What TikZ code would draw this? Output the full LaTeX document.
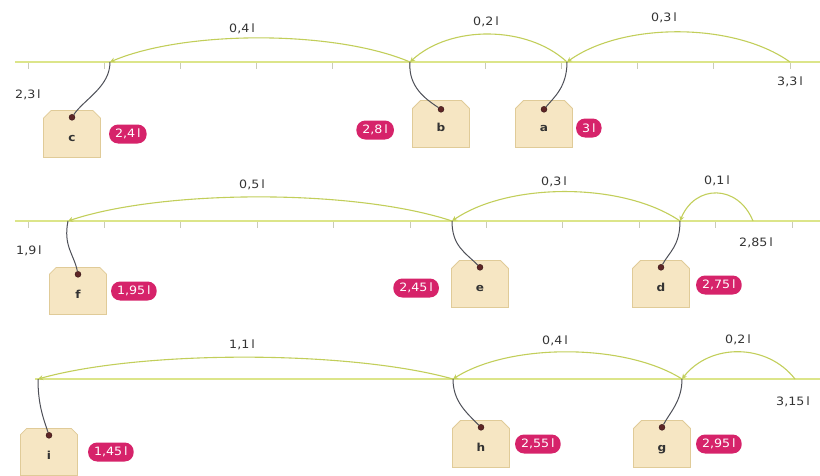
\documentclass[tikz,border=0pt]{standalone}
\usepackage{fontspec}
\setmainfont{DejaVu Sans}[FakeStretch=1.1]
\usetikzlibrary{arrows.meta,positioning,shapes.misc}
\definecolor{linecol}{HTML}{DCE58A}
\definecolor{arccol}{HTML}{C2CE5A}
\definecolor{tickcol}{HTML}{C9CBB8}
\definecolor{strcol}{HTML}{4E5058}
\definecolor{tagfill}{HTML}{F6E6C3}
\definecolor{tagline}{HTML}{E0CB98}
\definecolor{holecol}{HTML}{5E2626}
\definecolor{pillcol}{HTML}{D6236A}
\definecolor{txt}{HTML}{333333}
\tikzset{
  numline/.style={draw=linecol, line width=1.6pt},
  tickmark/.style={draw=tickcol, line width=0.7pt},
  jump/.style={-{Stealth[length=5pt,width=5pt]}, draw=arccol, line width=1.1pt},
  amount/.style={font=\fontsize{11.5}{13}\selectfont, text=txt, inner sep=1pt},
  tag/.style={
    chamfered rectangle, chamfered rectangle corners={north west,north east},
    chamfered rectangle xsep=4pt, chamfered rectangle ysep=4pt,
    fill=tagfill, draw=tagline, line width=0.8pt,
    minimum width=57pt, minimum height=47pt,
    inner sep=0pt, text height=15pt, text depth=0pt,
    font=\fontsize{11}{13}\selectfont\bfseries, text=txt
  },
  hole/.style={circle, fill=holecol, draw=holecol!60!black, inner sep=0pt, minimum size=6pt},
  pill/.style={
    rounded corners=9pt, fill=pillcol, text=white,
    inner xsep=6pt, inner ysep=0pt, minimum height=19pt,
    font=\fontsize{11.5}{13}\selectfont
  },
  string/.style={draw=strcol, line width=1pt}
}
\begin{document}
\begin{tikzpicture}[x=1pt,y=-1pt]
  \useasboundingbox (0,0) rectangle (820,475);
  % first line: 3,3 l - 0,3 l - 0,2 l - 0,4 l
  \draw[numline] (15,62) -- (820,62);
  \foreach \k in {0,...,10}
    \draw[tickmark] ({28+76.2*\k},63) -- ++(0,6);
  \coordinate (pc) at (110,62);
  \coordinate (pb) at (410,62);
  \coordinate (pa) at (567,62);
  \coordinate (r1end) at (790,62);
  \draw[jump] (r1end) .. controls +(-56,-40) and +(56,-40) .. (pa);
  \draw[jump] (pa) .. controls +(-40,-37) and +(40,-37) .. (pb);
  \draw[jump] (pb) .. controls +(-75,-32) and +(75,-32) .. (pc);
  \node[amount] (l23) at (28,95) {2,3\,l};
  \node[amount] (l33) at (790,82) {3,3\,l};
  \node[amount] (s04) at (242,29) {0,4\,l};
  \node[amount] (s02) at (486,22) {0,2\,l};
  \node[amount] (s03) at (664,18) {0,3\,l};
  \node[tag] (c) at (72,134) {c};
  \node[tag] (b) at (441,124) {b};
  \node[tag] (a) at (544,124) {a};
  \node[hole, below=4pt of c.north] (hc) {};
  \node[hole, below=6pt of b.north] (hb) {};
  \node[hole, below=6pt of a.north] (ha) {};
  \draw[string] (pc) .. controls +(0,25) and +(12,-18) .. (hc);
  \draw[string] (pb) .. controls +(-2,25) and +(-15,-10) .. (hb);
  \draw[string] (pa) .. controls +(0,25) and +(10,-12) .. (ha);
  \node[pill, right=8pt of c] (vc) {2,4\,l};
  \node[pill, left=18pt of b, yshift=-6pt] (vb) {2,8\,l};
  \node[pill, right=3pt of a, yshift=-4pt] (va) {3\,l};
  % second line: 2,85 l - 0,1 l - 0,3 l - 0,5 l
  \draw[numline] (15,221) -- (820,221);
  \foreach \k in {0,...,10}
    \draw[tickmark] ({28+76.4*\k},222) -- ++(0,6);
  \coordinate (pf) at (68,221);
  \coordinate (pe) at (452,221);
  \coordinate (pd) at (680,221);
  \coordinate (r2end) at (753,221);
  \draw[jump] (r2end) .. controls +(-15,-37) and +(15,-37) .. (pd);
  \draw[jump] (pd) .. controls +(-57,-39) and +(57,-39) .. (pe);
  \draw[jump] (pe) .. controls +(-96,-32) and +(96,-32) .. (pf);
  \node[amount] (l19) at (29,251) {1,9\,l};
  \node[amount] (l285) at (756,243) {2,85\,l};
  \node[amount] (s05) at (252,185) {0,5\,l};
  \node[amount] (s03b) at (554,182) {0,3\,l};
  \node[amount] (s01) at (717,181) {0,1\,l};
  \node[tag] (f) at (78,291) {f};
  \node[tag] (e) at (480,284) {e};
  \node[tag] (d) at (661,284) {d};
  \node[hole, below=4pt of f.north] (hf) {};
  \node[hole, below=4pt of e.north] (he) {};
  \node[hole, below=4pt of d.north] (hd) {};
  \draw[string] (pf) .. controls +(-5,25) and +(-4,-20) .. (hf);
  \draw[string] (pe) .. controls +(0,25) and +(-15,-15) .. (he);
  \draw[string] (pd) .. controls +(0,25) and +(8,-15) .. (hd);
  \node[pill, right=4pt of f] (vf) {1,95\,l};
  \node[pill, left=12pt of e, yshift=-4pt] (ve) {2,45\,l};
  \node[pill, right=6pt of d, yshift=-1pt] (vd) {2,75\,l};
  % third line: 3,15 l - 0,2 l - 0,4 l - 1,1 l
  \draw[numline] (35,379) -- (820,379);
  \coordinate (pi) at (38,379);
  \coordinate (ph) at (453,379);
  \coordinate (pg) at (682,379);
  \coordinate (r3end) at (795,379);
  \draw[jump] (r3end) .. controls +(-28,-36) and +(28,-36) .. (pg);
  \draw[jump] (pg) .. controls +(-57,-36) and +(57,-36) .. (ph);
  \draw[jump] (ph) .. controls +(-104,-29) and +(104,-29) .. (pi);
  \node[amount] (l315) at (793,402) {3,15\,l};
  \node[amount] (s11) at (242,345) {1,1\,l};
  \node[amount] (s04b) at (555,341) {0,4\,l};
  \node[amount] (s02b) at (738,340) {0,2\,l};
  \node[tag] (i) at (49,452) {i};
  \node[tag] (h) at (481,444) {h};
  \node[tag] (g) at (662,444) {g};
  \node[hole, below=4pt of i.north] (hi) {};
  \node[hole, below=4pt of h.north] (hh) {};
  \node[hole, below=4pt of g.north] (hg) {};
  \draw[string] (pi) .. controls +(0,25) and +(-6,-18) .. (hi);
  \draw[string] (ph) .. controls +(0,22) and +(-15,-15) .. (hh);
  \draw[string] (pg) .. controls +(0,22) and +(8,-15) .. (hg);
  \node[pill, right=10pt of i] (vi) {1,45\,l};
  \node[pill, right=5pt of h] (vh) {2,55\,l};
  \node[pill, right=5pt of g] (vg) {2,95\,l};
\end{tikzpicture}
\end{document}
